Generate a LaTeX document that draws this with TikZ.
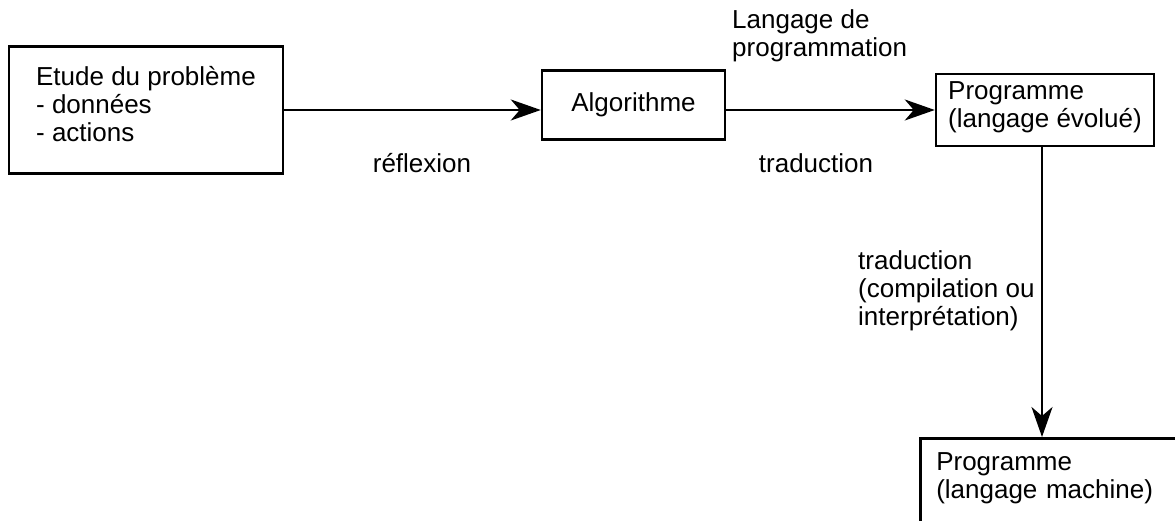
\documentclass[tikz,border=0pt]{standalone}
\usepackage{fontspec}
\setmainfont{Liberation Sans}
\usetikzlibrary{arrows.meta}
\tikzset{
  box/.style={draw=black,line width=2.5pt,inner sep=0pt},
  flow/.style={line width=2.5pt,-{Stealth[length=30pt,width=21pt,inset=9pt]}},
  note/.style={inner sep=0pt,align=left}
}

\begin{document}
\begin{tikzpicture}[x=1pt,y=-1pt,font=\fontsize{26}{28}\selectfont]
  \useasboundingbox (0,0) rectangle (1175,521);
  \clip (0,0) rectangle (1175,521);
  % boxes
  \node[box,minimum width=274pt,minimum height=127pt,text depth=12pt,align=left] (etude) at (146,110) {Etude du problème\\- données\\- actions};
  \node[box,minimum width=183pt,minimum height=69pt] (algo) at (633.5,105) {Algorithme};
  \node[box,minimum width=218pt,minimum height=72pt,text depth=10pt,align=left] (prog) at (1045,110) {Programme\\(langage évolué)};
  \node[box,anchor=north west,inner xsep=16pt,inner ysep=14pt,text width=300pt,text depth=70pt,align=left] (mach) at (919,437) {Programme\\(langage machine)};
  % arrows
  \draw[flow] (etude.east) -- (algo.west |- etude.east);
  \draw[flow] (algo.east |- prog.west) -- (prog.west);
  \draw[flow] ([xshift=-3pt]prog.south) -- ([xshift=-3pt]prog.south |- mach.north);
  % labels
  \node[note] (refl) at (422,163) {réflexion};
  \node[note] (trad) at (816,163) {traduction};
  \node[note,anchor=west] (lang) at (732,36) {Langage de\\programmation};
  \node[note,anchor=west] (comp) at (858,291) {traduction\\(compilation ou\\interprétation)};
\end{tikzpicture}
\end{document}
